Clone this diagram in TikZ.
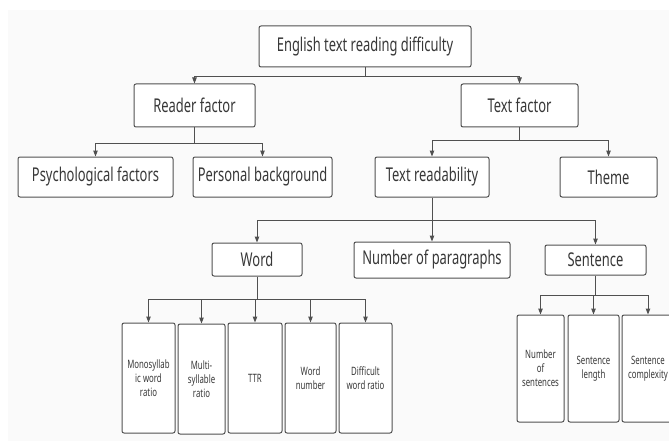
\documentclass[tikz,border=0pt]{standalone}
\usepackage{fontspec}
\setmainfont{Noto Sans}[FakeStretch=0.68]
\usepackage{tikz}
\usetikzlibrary{arrows.meta,positioning,calc}

\definecolor{linegray}{HTML}{505050}
\definecolor{textgray}{HTML}{383838}
\definecolor{bggray}{HTML}{FAFAFA}

\begin{document}
\begin{tikzpicture}[x=1pt, y=-1pt]
        \tikzstyle{factor}=[rectangle, draw=linegray, line width=1pt, rounded corners=2pt, fill=white, text=textgray, inner sep=0pt, font=\fontsize{19}{22}\selectfont]
        \tikzstyle{item}=[factor, align=center, font=\fontsize{11.5}{14}\selectfont]
        \tikzstyle{link}=[draw=linegray, line width=1pt]
        \tikzstyle{arrow}=[link, -{Triangle[length=6pt, width=4.5pt]}]

        % Background
        \useasboundingbox (0,0) rectangle (669,441);
        \fill[bggray] (8,10) rectangle (669,441);

        % Root
        \node (root) [factor, minimum width=212pt, minimum height=41pt] at (365,46.5) {English text reading difficulty};

        % Reader factor
        \node (reader) [factor, minimum width=121pt, minimum height=43pt] at (194.5,105.5) {Reader factor};
        \node (psych) [factor, minimum width=155pt, minimum height=40pt] at (95.5,177) {Psychological factors};
        \node (personal) [factor, minimum width=139pt, minimum height=40pt] at (262.5,177) {Personal background};

        % Text factor
        \node (textf) [factor, minimum width=117pt, minimum height=43pt] at (519.5,105.5) {Text factor};
        \node (readab) [factor, minimum width=114pt, minimum height=40pt] at (432,177) {Text readability};
        \node (theme) [factor, minimum width=97pt, minimum height=40pt] at (608.5,177) {Theme};

        % Text readability
        \node (word) [factor, minimum width=90pt, minimum height=33pt] at (257,259.5) {Word};
        \node (paras) [factor, minimum width=156pt, minimum height=36pt] at (432,260) {Number of paragraphs};
        \node (sentence) [factor, minimum width=101pt, minimum height=30pt] at (595.5,260) {Sentence};

        % Word
        \node (mono) [item, minimum width=53pt, minimum height=110pt] at (148.5,378) {Monosyllab\\ic word\\ratio};
        \node (multi) [item, minimum width=47pt, minimum height=110pt] at (201.5,379) {Multi-\\syllable\\ratio};
        \node (ttr) [item, minimum width=54pt, minimum height=110pt] at (255,378) {TTR};
        \node (wnum) [item, minimum width=51pt, minimum height=110pt] at (310.5,378) {Word\\number};
        \node (diff) [item, minimum width=53pt, minimum height=110pt] at (365.5,378) {Difficult\\word ratio};

        % Sentence
        \node (nsent) [item, minimum width=47pt, minimum height=107pt] at (540.5,368.5) {Number\\of\\sentences};
        \node (slen) [item, minimum width=51pt, minimum height=107pt] at (593.5,368.5) {Sentence\\length};
        \node (scomp) [item, minimum width=52pt, minimum height=107pt] at (648,368.5) {Sentence\\complexity};

        % Buses
        \coordinate (rootbus) at ($(root.south)+(0,9)$);
        \coordinate (readerbus) at ($(reader.south)+(0,16)$);
        \coordinate (textfbus) at ($(textf.south)+(0,13)$);
        \coordinate (readabbus) at ($(readab.south)+(0,23)$);
        \coordinate (wordbus) at ($(word.south)+(0,23)$);
        \coordinate (sentbus) at ($(sentence.south)+(0,20)$);

        % Arrows
        \draw[link] (root) -- (rootbus);
        \draw[arrow] (rootbus) -| (reader);
        \draw[arrow] (rootbus) -| (textf);

        \draw[link] (reader) -- (readerbus);
        \draw[arrow] (readerbus) -| (psych);
        \draw[arrow] (readerbus) -| (personal);

        \draw[link] (textf) -- (textfbus);
        \draw[arrow] (textfbus) -| (readab);
        \draw[arrow] (textfbus) -| (theme);

        \draw[link] (readab) -- (readabbus);
        \draw[arrow] (readabbus) -| (word);
        \draw[arrow] (readabbus) -- (paras);
        \draw[arrow] (readabbus) -| (sentence);

        \draw[link] (word) -- (wordbus);
        \foreach \leaf in {mono, multi, ttr, wnum, diff}
            \draw[arrow] (wordbus) -| (\leaf);

        \draw[link] (sentence) -- (sentbus);
        \foreach \leaf in {nsent, slen, scomp}
            \draw[arrow] (sentbus) -| (\leaf);
\end{tikzpicture}
\end{document}
